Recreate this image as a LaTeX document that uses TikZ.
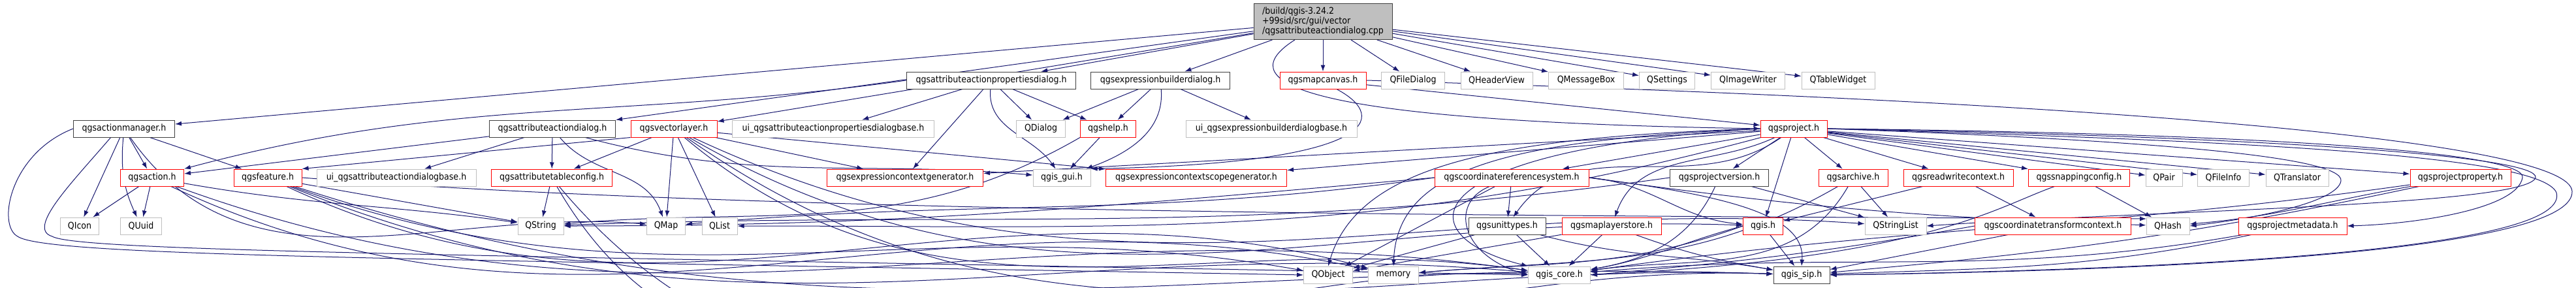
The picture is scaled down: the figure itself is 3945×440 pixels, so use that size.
\documentclass[tikz,border=0pt]{standalone}
\usepackage{fontspec}
\newfontfamily\dvsf{DejaVu Sans Condensed}
\usepackage{tikz}
\usetikzlibrary{arrows.meta,backgrounds}
\definecolor{edgeblue}{HTML}{191970}

\begin{document}
\begin{tikzpicture}[x=0.2pt, y=0.2pt,
	wd/.style={minimum width=0.2*#1},
	filebox/.style={rectangle, draw, line width=0.2pt, fill=white, minimum height=5.2, inner sep=0.4, font=\dvsf\fontsize{2.8}{3}\selectfont},
	hdrbox/.style={filebox, draw=black!75},
	truncbox/.style={filebox, draw=red},
	sysbox/.style={filebox, draw=black!25},
	rootbox/.style={filebox, draw=black!75, fill=black!25, align=left, minimum height=11},
	dep/.style={draw=edgeblue, line width=0.2pt, -{Latex[length=2pt,width=1.4pt]}}
]
\useasboundingbox (0,0) rectangle (3945,-440);
% source file
\node[rootbox, wd=212] (main) at (2026,-33) {/build/qgis-3.24.2\\+99sid/src/gui/vector\\/qgsattributeactiondialog.cpp};
% row 1
\node[hdrbox, wd=259] (attactprop) at (1518,-123) {qgsattributeactionpropertiesdialog.h};
\node[hdrbox, wd=213] (exprbld) at (1777,-123) {qgsexpressionbuilderdialog.h};
\node[truncbox, wd=132] (mapcanvas) at (2026,-123) {qgsmapcanvas.h};
\node[sysbox, wd=97] (qfiledialog) at (2164,-123) {QFileDialog};
\node[sysbox, wd=110] (qheaderview) at (2292,-123) {QHeaderView};
\node[sysbox, wd=115] (qmessagebox) at (2429,-123) {QMessageBox};
\node[sysbox, wd=85] (qsettings) at (2553,-123) {QSettings};
\node[sysbox, wd=113] (qimagewriter) at (2677,-123) {QImageWriter};
\node[sysbox, wd=112] (qtablewidget) at (2815,-123) {QTableWidget};
% row 2
\node[hdrbox, wd=155] (actmgr) at (190,-197) {qgsactionmanager.h};
\node[hdrbox, wd=193] (attactdlg) at (846,-197) {qgsattributeactiondialog.h};
\node[truncbox, wd=132] (vlayer) at (1032,-197) {qgsvectorlayer.h};
\node[sysbox, wd=309] (uipropdlg) at (1276,-197) {ui\_qgsattributeactionpropertiesdialogbase.h};
\node[sysbox, wd=75] (qdialog) at (1594,-197) {QDialog};
\node[truncbox, wd=85] (help) at (1697,-197) {qgshelp.h};
\node[sysbox, wd=262] (uiexprbld) at (1947,-197) {ui\_qgsexpressionbuilderdialogbase.h};
\node[truncbox, wd=102] (project) at (2747,-197) {qgsproject.h};
% row 3
\node[truncbox, wd=97] (action) at (233,-272) {qgsaction.h};
\node[truncbox, wd=104] (feature) at (410,-272) {qgsfeature.h};
\node[sysbox, wd=244] (uiactdlg) at (607,-272) {ui\_qgsattributeactiondialogbase.h};
\node[truncbox, wd=185] (tableconf) at (845,-272) {qgsattributetableconfig.h};
\node[truncbox, wd=239] (ctxgen) at (1386,-272) {qgsexpressioncontextgenerator.h};
\node[sysbox, wd=88] (gui) at (1626,-272) {qgis\_gui.h};
\node[truncbox, wd=277] (scopegen) at (1832,-272) {qgsexpressioncontextscopegenerator.h};
\node[truncbox, wd=236] (crs) at (2315,-272) {qgscoordinatereferencesystem.h};
\node[hdrbox, wd=151] (projver) at (2633,-272) {qgsprojectversion.h};
\node[truncbox, wd=106] (archive) at (2838,-272) {qgsarchive.h};
\node[truncbox, wd=168] (rwcontext) at (2999,-272) {qgsreadwritecontext.h};
\node[truncbox, wd=155] (snapping) at (3184,-272) {qgssnappingconfig.h};
\node[sysbox, wd=56] (qpair) at (3314,-272) {QPair};
\node[sysbox, wd=79] (qfileinfo) at (3405,-272) {QFileInfo};
\node[sysbox, wd=96] (qtranslator) at (3518,-272) {QTranslator};
\node[truncbox, wd=154] (projprop) at (3768,-272) {qgsprojectproperty.h};
% row 4
\node[sysbox, wd=59] (qicon) at (122,-346) {QIcon};
\node[sysbox, wd=63] (quuid) at (216,-346) {QUuid};
\node[sysbox, wd=70] (qstring) at (828,-346) {QString};
\node[sysbox, wd=59] (qmap) at (1020,-346) {QMap};
\node[sysbox, wd=54] (qlist) at (1102,-346) {QList};
\node[hdrbox, wd=118] (units) at (2308,-346) {qgsunittypes.h};
\node[truncbox, wd=152] (layerstore) at (2468,-346) {qgsmaplayerstore.h};
\node[truncbox, wd=61] (qgis) at (2700,-346) {qgis.h};
\node[sysbox, wd=94] (qstringlist) at (2903,-346) {QStringList};
\node[truncbox, wd=239] (transctx) at (3144,-346) {qgscoordinatetransformcontext.h};
\node[sysbox, wd=66] (qhash) at (3320,-346) {QHash};
\node[truncbox, wd=166] (projmeta) at (3511,-346) {qgsprojectmetadata.h};
% row 5
\node[sysbox, wd=75] (qobject) at (2034,-421) {QObject};
\node[sysbox, wd=77] (memory) at (2134,-421) {memory};
\node[sysbox, wd=95] (core) at (2388,-421) {qgis\_core.h};
\node[hdrbox, wd=86] (sip) at (2759,-421) {qgis\_sip.h};

\begin{scope}[on background layer]
% includes of the source file
\foreach \t in {actmgr,attactdlg,vlayer,attactprop,exprbld,mapcanvas,qfiledialog,qheaderview,qmessagebox,qsettings,qimagewriter,qtablewidget}
	\draw[dep] (main) -- (\t);
\draw[dep] (1983,-61) .. controls (1890,-120) and (1950,-185) .. (project.west);
% qgsactionmanager.h
\foreach \t in {action,feature,qicon}
	\draw[dep] (actmgr) -- (\t);
\draw[dep] (actmgr) to[bend right=15] (quuid);
\draw[dep] (actmgr) to[out=-55,in=175] (qmap);
\draw[dep] (actmgr.west) .. controls (15,-235) and (-5,-345) .. (27,-362) .. controls (70,-392) and (600,-396) .. (qobject.west);
\draw[dep] (170,-210) .. controls (110,-280) and (40,-350) .. (80,-362) .. controls (120,-385) and (700,-390) .. (core.west);
% qgsaction.h, qgsfeature.h
\draw[dep] (action) -- (qicon);
\draw[dep] (action) -- (quuid);
\draw[dep] (action) to[out=-10,in=172] (qstring);
\draw[dep] (action) to[out=-25,in=168] (memory);
\draw[dep] (action) to[out=-20,in=172] (core);
\draw[dep] (feature) to[out=-10,in=170] (qstring);
\draw[dep] (feature.east) .. controls (1200,-330) and (2500,-331) .. (3287,-335);
\draw[dep] (feature) to[out=-20,in=170] (qobject);
\draw[dep] (feature) to[out=-25,in=165] (memory);
\draw[dep] (feature) to[out=-22,in=175] (core);
\draw[dep] (feature) to[out=-18,in=178] (sip);
% qgsattributeactiondialog.h
\foreach \t in {uiactdlg,tableconf,action}
	\draw[dep] (attactdlg) -- (\t);
\draw[dep] (attactdlg) to[out=-50,in=110] (qmap);
\draw[dep] (attactdlg) to[out=-15,in=175] (gui);
% qgsvectorlayer.h
\foreach \t in {tableconf,qmap,qlist,ctxgen,scopegen}
	\draw[dep] (vlayer) -- (\t);
\draw[dep] (vlayer.south west) -- (feature.north east);
\draw[dep] (vlayer) to[out=-30,in=178] (qgis);
\draw[dep] (vlayer) to[out=-25,in=176] (qstringlist);
\draw[dep] (vlayer) to[out=-40,in=172] (core);
\draw[dep] (vlayer) to[out=-35,in=178] (sip);
% dialogs
\foreach \t in {uipropdlg,qdialog,help,ctxgen}
	\draw[dep] (attactprop) -- (\t);
\draw[dep] (attactprop) to[out=-95,in=125] (gui);
\draw[dep] (attactprop.west) to[out=188,in=15] (action.north east);
\foreach \t in {qdialog,help,uiexprbld}
	\draw[dep] (exprbld) -- (\t);
\draw[dep] (exprbld) to[out=-85,in=20] (gui);
\draw[dep] (help) -- (gui);
\draw[dep] (help.south west) to[out=-150,in=5] (qstring);
% qgsmapcanvas.h
\draw[dep] (2046,-136) .. controls (2130,-180) and (2110,-250) .. (gui.north east);
\draw[dep] (mapcanvas) -- (project);
\draw[dep] (mapcanvas.east) .. controls (3300,-158) and (3935,-220) .. (3939,-293) .. controls (3942,-370) and (3500,-412) .. (sip.east);
% qgsproject.h
\foreach \t in {projver,qgis,archive,rwcontext,snapping,qpair,qfileinfo,qtranslator,projprop,crs,ctxgen,scopegen}
	\draw[dep] (project) -- (\t);
\draw[dep] (project) to[out=215,in=55] (units);
\draw[dep] (project) to[out=205,in=70] (layerstore);
\draw[dep] (project.west) .. controls (2300,-210) and (2080,-250) .. (qobject.north);
\draw[dep] (project.west) .. controls (2300,-215) and (2140,-260) .. (memory.north);
\draw[dep] (project.west) .. controls (2160,-230) and (2150,-360) .. (core.north west);
\draw[dep] (project) to[out=195,in=0] (qlist);
\draw[dep] (project.east) .. controls (3300,-215) and (3590,-240) .. (3585,-277) .. controls (3580,-310) and (3450,-335) .. (qhash.east);
\draw[dep] (project.east) .. controls (3500,-205) and (3870,-235) .. (3863,-272) .. controls (3855,-320) and (3700,-343) .. (projmeta.east);
\draw[dep] (project.east) .. controls (3500,-210) and (3890,-240) .. (3883,-272) .. controls (3870,-315) and (3300,-322) .. (qstringlist.east);
\draw[dep] (project.east) .. controls (3400,-215) and (3890,-235) .. (3915,-295) .. controls (3935,-370) and (3500,-410) .. (sip.east);
% qgscoordinatereferencesystem.h
\draw[dep] (crs) -- (units);
\draw[dep] (crs) -- (qobject);
\draw[dep] (crs) .. controls (2220,-310) and (2235,-390) .. (core.west);
\draw[dep] (crs.west) to[out=185,in=0] (qstring);
\draw[dep] (crs.west) to[out=188,in=5] (qmap);
\draw[dep] (crs.east) to[out=-5,in=175] (qgis);
\draw[dep] (crs.east) to[out=-8,in=178] (qhash);
\draw[dep] (crs.east) .. controls (2650,-300) and (2765,-330) .. (sip.north);
% the other headers
\draw[dep] (projver) -- (qstringlist);
\draw[dep] (projver.west) to[out=188,in=2] (qstring);
\draw[dep] (projver) to[out=-115,in=10] (core);
\draw[dep] (archive) -- (qstringlist);
\draw[dep] (archive) to[out=-150,in=5] (memory);
\draw[dep] (archive) to[out=-120,in=8] (core);
\draw[dep] (rwcontext) -- (qgis);
\draw[dep] (rwcontext) -- (transctx);
\draw[dep] (snapping) -- (qhash);
\draw[dep] (snapping) .. controls (3050,-320) and (2950,-395) .. (core.east);
\draw[dep] (transctx) -- (sip);
\draw[dep] (transctx.west) to[out=190,in=5] (core.east);
\draw[dep] (qgis) -- (sip);
\draw[dep] (qgis.west) to[out=195,in=10] (core);
\draw[dep] (qgis.west) to[out=200,in=5] (memory);
\draw[dep] (units) -- (qobject);
\draw[dep] (units) -- (core);
\draw[dep] (units) to[out=-15,in=170] (sip);
\draw[dep] (layerstore) -- (core);
\draw[dep] (layerstore) -- (qobject);
\draw[dep] (layerstore) to[out=-20,in=170] (sip);
\draw[dep] (projprop) to[out=190,in=5] (qhash);
\draw[dep] (projprop) to[out=188,in=8] (core);
\draw[dep] (projprop) to[out=192,in=5] (sip);
\draw[dep] (projmeta) to[out=190,in=5] (core);
\draw[dep] (projmeta) to[out=192,in=2] (sip);
\draw[dep] (tableconf) -- (qstring);
\draw[dep] (tableconf) to[out=-60,in=178] (core);
\draw[dep] (tableconf) to[out=-50,in=178] (sip);
\end{scope}
\end{tikzpicture}
\end{document}
